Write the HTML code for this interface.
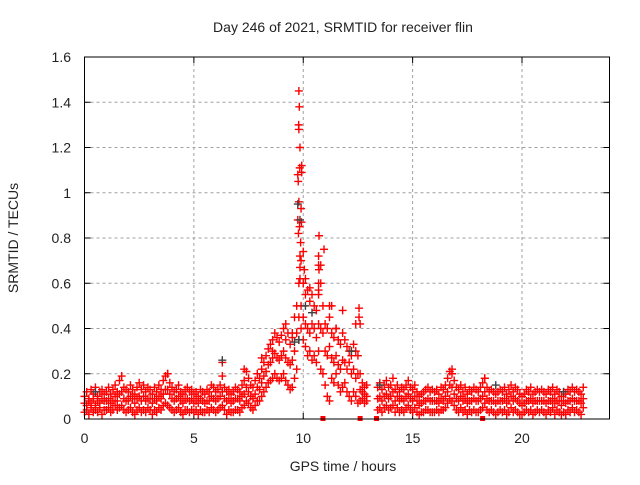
<!DOCTYPE html>
<html><head><meta charset="utf-8"><style>
body{margin:0;background:#fff;}
svg text{font-family:"Liberation Sans",Arial,sans-serif;font-size:14px;fill:#222;}
</style></head><body>
<svg id="chart" width="640" height="480" xmlns="http://www.w3.org/2000/svg">
<text x="343" y="32" text-anchor="middle">Day 246 of 2021, SRMTID for receiver flin</text>
<text transform="translate(18,238) rotate(-90)" text-anchor="middle">SRMTID / TECUs</text>
<text x="343" y="471" text-anchor="middle">GPS time / hours</text>
<g id="grid"></g>
<g id="ticks"></g>
<g id="marks"></g>
<rect x="84.5" y="57" width="525" height="362" fill="none" stroke="#000" stroke-width="1"/>
</svg>
<script>
const xTicks=[0,5,10,15,20];
const yTicks=[0,0.2,0.4,0.6,0.8,1,1.2,1.4,1.6];
const yTickLabels=["0","0.2","0.4","0.6","0.8","1","1.2","1.4","1.6"];
const startHour=0, stepHour=0.1;
const hiValues=[
0.10,0.12,0.09,0.13,0.11,0.14,0.10,0.12,0.13,0.11,
0.12,0.14,0.11,0.13,0.15,0.12,0.17,0.19,0.14,0.13,
0.12,0.15,0.13,0.11,0.14,0.16,0.13,0.15,0.12,0.14,
0.13,0.11,0.14,0.12,0.15,0.13,0.17,0.19,0.20,0.16,
0.14,0.12,0.13,0.15,0.12,0.11,0.13,0.14,0.12,0.13,
0.11,0.12,0.10,0.13,0.12,0.11,0.13,0.12,0.15,0.14,
0.12,0.13,0.15,0.19,0.14,0.12,0.13,0.11,0.12,0.14,
0.13,0.12,0.15,0.17,0.21,0.18,0.15,0.14,0.17,0.20,
0.18,0.22,0.25,0.28,0.31,0.33,0.35,0.38,0.36,0.34,
0.37,0.40,0.35,0.38,0.33,0.36,0.45,0.50,0.60,0.70,
0.60,0.55,0.57,0.52,0.55,0.50,0.48,0.55,0.60,0.50,
0.42,0.40,0.45,0.38,0.36,0.40,0.35,0.33,0.38,0.35,
0.32,0.30,0.28,0.33,0.30,0.28,0.20,0.16,0.14,0.15,
null,null,null,null,0.14,0.16,0.13,0.15,0.17,0.14,
0.15,0.18,0.13,0.15,0.12,0.14,0.13,0.15,0.17,0.14,
0.13,0.15,0.12,0.10,0.11,0.12,0.13,0.14,0.12,0.13,
0.12,0.13,0.11,0.14,0.13,0.15,0.18,0.21,0.20,0.17,
0.14,0.13,0.15,0.12,0.14,0.11,0.13,0.12,0.14,0.13,
0.12,0.14,0.16,0.18,0.14,0.12,0.13,0.12,0.11,0.12,
0.13,0.12,0.14,0.11,0.13,0.15,0.12,0.14,0.13,0.11,
0.10,0.11,0.13,0.12,0.14,0.11,0.12,0.13,0.12,0.13,
0.12,0.11,0.13,0.12,0.14,0.11,0.13,0.12,0.10,0.12,
0.11,0.13,0.12,0.14,0.12,0.13,0.12,0.11,0.14];
const midValues=[
0.07,0.06,0.08,0.07,0.09,0.06,0.08,0.07,0.09,0.08,
0.08,0.09,0.07,0.08,0.10,0.08,0.11,0.12,0.09,0.08,
0.08,0.10,0.09,0.07,0.09,0.10,0.08,0.10,0.08,0.09,
0.09,0.07,0.09,0.08,0.10,0.09,0.11,0.13,0.13,0.11,
0.09,0.08,0.09,0.10,0.08,0.07,0.09,0.09,0.08,0.09,
0.07,0.08,0.07,0.09,0.08,0.07,0.08,0.08,0.10,0.09,
0.08,0.09,0.10,0.12,0.09,0.08,0.09,0.07,0.08,0.09,
0.09,0.08,0.10,0.11,0.14,0.12,0.10,0.09,0.11,0.14,
0.13,0.16,0.19,0.21,0.24,0.25,0.27,0.29,0.27,0.26,
0.28,0.30,0.27,0.25,0.24,0.26,0.30,0.38,0.45,0.50,
0.45,0.42,0.40,0.38,0.42,0.40,0.36,0.42,0.40,0.38,
0.30,0.28,0.32,0.27,0.25,0.28,0.24,0.22,0.26,0.25,
0.22,0.25,0.20,0.22,0.18,0.20,0.13,0.12,0.11,0.10,
null,null,null,null,0.09,0.10,0.08,0.10,0.11,0.09,
0.10,0.12,0.08,0.10,0.08,0.09,0.08,0.10,0.11,0.09,
0.08,0.10,0.08,0.06,0.07,0.08,0.08,0.09,0.08,0.08,
0.08,0.08,0.07,0.09,0.08,0.10,0.12,0.15,0.14,0.11,
0.09,0.08,0.10,0.08,0.09,0.07,0.08,0.08,0.09,0.08,
0.08,0.09,0.10,0.12,0.09,0.08,0.08,0.08,0.07,0.08,
0.08,0.08,0.09,0.07,0.08,0.10,0.08,0.09,0.08,0.07,
0.06,0.07,0.08,0.08,0.09,0.07,0.08,0.08,0.08,0.08,
0.08,0.07,0.08,0.08,0.09,0.07,0.08,0.08,0.06,0.08,
0.07,0.08,0.08,0.09,0.08,0.08,0.08,0.07,0.09];
const loValues=[
0.03,0.04,0.02,0.05,0.03,0.04,0.03,0.05,0.02,0.04,
0.04,0.05,0.03,0.04,0.06,0.04,0.05,0.06,0.04,0.03,
0.04,0.05,0.03,0.02,0.04,0.05,0.03,0.04,0.03,0.05,
0.04,0.02,0.04,0.03,0.05,0.04,0.06,0.07,0.06,0.05,
0.04,0.03,0.04,0.05,0.03,0.02,0.04,0.04,0.03,0.04,
0.03,0.04,0.02,0.04,0.03,0.03,0.04,0.03,0.05,0.04,
0.03,0.04,0.05,0.06,0.04,0.02,0.04,0.03,0.03,0.04,
0.04,0.03,0.05,0.06,0.08,0.07,0.05,0.04,0.06,0.08,
0.08,0.10,0.12,0.14,0.16,0.17,0.18,0.20,0.18,0.17,
0.18,0.20,0.17,0.15,0.13,0.14,0.18,0.22,0.35,0.40,
0.35,0.32,0.28,0.30,0.26,0.28,0.25,0.30,0.22,0.20,
0.15,0.10,0.08,0.18,0.16,0.20,0.15,0.12,0.14,0.16,
0.12,0.10,0.08,0.12,0.10,0.07,0.08,0.09,0.07,0.08,
null,null,null,null,0.04,0.05,0.03,0.05,0.06,0.04,
0.05,0.06,0.03,0.05,0.03,0.04,0.03,0.05,0.06,0.04,
0.03,0.05,0.03,0.02,0.03,0.03,0.04,0.04,0.03,0.03,
0.03,0.04,0.03,0.04,0.04,0.05,0.07,0.09,0.08,0.06,
0.04,0.03,0.05,0.03,0.04,0.02,0.04,0.03,0.04,0.03,
0.03,0.04,0.05,0.07,0.04,0.03,0.04,0.03,0.02,0.03,
0.04,0.03,0.04,0.02,0.03,0.05,0.03,0.04,0.03,0.02,
0.02,0.03,0.04,0.03,0.04,0.02,0.03,0.04,0.03,0.04,
0.03,0.02,0.04,0.03,0.05,0.02,0.04,0.03,0.02,0.03,
0.02,0.04,0.03,0.05,0.03,0.04,0.03,0.02,0.05];
const spikeTimes=[9.8,9.82,9.79,9.8,9.85,9.84,9.93,9.93,9.75,9.77,9.8,9.9,9.75,9.83,9.92,9.78,9.88,10.0,9.85,9.85,10.05,9.85,10.1,10.72,10.95,10.7,10.7,10.72,10.8,10.7,10.7,11.2,11.3,11.8,12.55,12.55,12.4,12.6,6.3,7.3,8.1,8.6,9.2,9.5,10.3,11.5,12.2,16.8,18.3,3.8];
const spikeValues=[1.45,1.38,1.30,1.28,1.20,1.11,1.12,1.09,1.08,1.05,0.96,0.93,0.88,0.85,0.87,0.82,0.78,0.74,0.72,0.67,0.66,0.62,0.62,0.81,0.75,0.72,0.68,0.66,0.68,0.60,0.57,0.50,0.50,0.48,0.49,0.45,0.42,0.42,0.25,0.22,0.27,0.30,0.42,0.38,0.58,0.40,0.30,0.22,0.18,0.20];
const zeroTimes=[10.9,12.6,13.35,18.2];
const blackTimes=[9.75,9.85,9.8,10.1,10.4,12.2,18.8,0.5,6.3,13.5,21.9,9.6];
const blackValues=[0.95,0.88,0.35,0.50,0.47,0.30,0.15,0.12,0.26,0.15,0.12,0.34];

const X0=84.5,X1=609.5,Y0=419,Y1=57,XMAX=24,YMAX=1.6;
const xs=v=>X0+(X1-X0)*v/XMAX;
const ys=v=>Y0-(Y0-Y1)*v/YMAX;
const NS="http://www.w3.org/2000/svg";
const grid=document.getElementById('grid'),ticks=document.getElementById('ticks'),marks=document.getElementById('marks');
function mk(tag,attrs,parent){const e=document.createElementNS(NS,tag);for(const k in attrs)e.setAttribute(k,attrs[k]);parent.appendChild(e);return e;}
xTicks.forEach((t,i)=>{
  const x=xs(t);
  if(t>0){const g=mk('line',{x1:x,x2:x,y1:Y1,y2:Y0,stroke:'#a0a0a0','stroke-dasharray':'3,3'},grid);
  
  }
  const a=mk('line',{x1:x,x2:x,y1:Y0,y2:Y0-6,stroke:'#000'},ticks);
  
  
  const b=mk('line',{x1:x,x2:x,y1:Y1,y2:Y1+6,stroke:'#000'},ticks);
  
  
  const tx=mk('text',{x:x,y:443,'text-anchor':'middle'},ticks);tx.textContent=String(t);
  
  
});
yTicks.forEach((t,i)=>{
  const y=ys(t);
  if(t>0&&t<YMAX){const g=mk('line',{x1:X0,x2:X1,y1:y,y2:y,stroke:'#a0a0a0','stroke-dasharray':'3,3'},grid);
  
  }
  const a=mk('line',{x1:X0,x2:X0+6,y1:y,y2:y,stroke:'#000'},ticks);
  
  
  const b=mk('line',{x1:X1,x2:X1-6,y1:y,y2:y,stroke:'#000'},ticks);
  
  
  const tx=mk('text',{x:71,y:y+5,'text-anchor':'end'},ticks);tx.textContent=yTickLabels[i];
  
  
});
function plus(t,v,color,name){
  const x=xs(t),y=ys(v);
  const p=mk('path',{d:`M${x-4},${y}h8M${x},${y-4}v8`,stroke:color,'stroke-width':1.4,fill:'none'},marks);
  
  
}
[hiValues,midValues,loValues].forEach(arr=>arr.forEach((v,i)=>{if(v!==null)plus(startHour+i*stepHour,v,'#ff0000','srmtid-point');}));
spikeTimes.forEach((t,i)=>plus(t,spikeValues[i],'#ff0000','srmtid-point'));
zeroTimes.forEach(t=>{const r=mk('rect',{x:xs(t)-2.5,y:Y0-3,width:5,height:5,fill:'#ff0000'},marks);
  
  });
blackTimes.forEach((t,i)=>plus(t,blackValues[i],'#404040','srmtid-point-alt'));
</script>
</body></html>
